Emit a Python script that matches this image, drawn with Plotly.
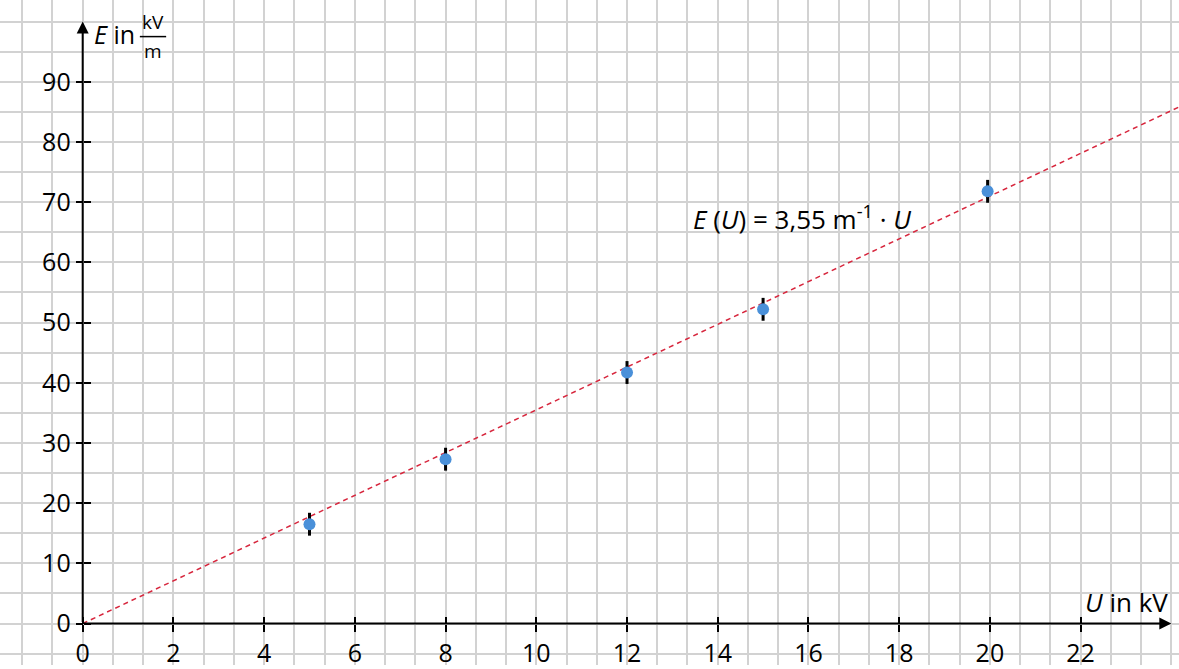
import plotly.graph_objects as go

# Measured field strength E (kV/m) against plate voltage U (kV)
voltage_kv = [5, 8, 12, 15, 19.95]
field_kv_per_m = [16.5, 27.3, 41.7, 52.2, 71.8]
field_error = [1.9, 1.9, 1.9, 1.9, 1.9]

# Proportional fit E(U) = k * U
slope = 3.55

# Tick labels
x_ticks = [0, 2, 4, 6, 8, 10, 12, 14, 16, 18, 20, 22]
y_ticks = [0, 10, 20, 30, 40, 50, 60, 70, 80, 90]

X_RANGE = [-1.823, 24.169]
Y_RANGE = [-6.886, 103.58]
X_END, Y_END = 24.0, 100.0

FONT = "Open Sans"
GRID = "#d2d2d2"

x_zero_frac = (0 - X_RANGE[0]) / (X_RANGE[1] - X_RANGE[0])
y_zero_frac = (0 - Y_RANGE[0]) / (Y_RANGE[1] - Y_RANGE[0])

fig = go.Figure()

# Fit line through the origin
fit_x = [0, X_RANGE[1] + 0.5]
fig.add_trace(go.Scatter(
    x=fit_x, y=[slope * u for u in fit_x], mode="lines",
    line=dict(color="#d7263d", width=1.5, dash="5px,4px"),
    hoverinfo="skip", showlegend=False,
))

# Measurements with uncertainties
fig.add_trace(go.Scatter(
    x=voltage_kv, y=field_kv_per_m, mode="markers",
    marker=dict(color="#4a90d9", size=12),
    error_y=dict(type="data", array=field_error, color="black",
                 thickness=3, width=0),
    showlegend=False,
))

tick_font = dict(family=FONT, size=25, color="black")

fig.update_layout(
    width=1179, height=669,
    margin=dict(l=0, r=0, t=0, b=0),
    plot_bgcolor="white", paper_bgcolor="white",
    showlegend=False,
    # background grid
    xaxis=dict(range=X_RANGE, tick0=0, dtick=2 / 3, showgrid=True,
               gridcolor=GRID, gridwidth=1.5, zeroline=False,
               showticklabels=False, ticks="", showline=False),
    yaxis=dict(range=Y_RANGE, tick0=0, dtick=5, showgrid=True,
               gridcolor=GRID, gridwidth=1.5, zeroline=False,
               showticklabels=False, ticks="", showline=False),
    # labelled axes crossing at the origin
    xaxis2=dict(range=X_RANGE, overlaying="x", anchor="free",
                position=y_zero_frac, side="bottom", tickvals=x_ticks,
                ticks="outside", ticklen=7, tickwidth=1.5, tickcolor="black",
                showgrid=False, zeroline=False, showline=False,
                tickfont=tick_font),
    xaxis3=dict(range=X_RANGE, overlaying="x", anchor="free",
                position=y_zero_frac, side="bottom", tickvals=x_ticks,
                ticks="inside", ticklen=7, tickwidth=1.5, tickcolor="black",
                showgrid=False, zeroline=False, showline=False,
                showticklabels=False),
    yaxis2=dict(range=Y_RANGE, overlaying="y", anchor="free",
                position=x_zero_frac, side="left", tickvals=y_ticks,
                ticks="outside", ticklen=7, tickwidth=1.5, tickcolor="black",
                showgrid=False, zeroline=False, showline=False,
                tickfont=tick_font),
    yaxis3=dict(range=Y_RANGE, overlaying="y", anchor="free",
                position=x_zero_frac, side="left", tickvals=y_ticks,
                ticks="inside", ticklen=7, tickwidth=1.5, tickcolor="black",
                showgrid=False, zeroline=False, showline=False,
                showticklabels=False),
)

# dummy traces so the overlay axes are drawn
fig.add_trace(go.Scatter(x=[None], y=[None], xaxis="x2", yaxis="y2",
                         showlegend=False, hoverinfo="skip"))
fig.add_trace(go.Scatter(x=[None], y=[None], xaxis="x3", yaxis="y3",
                         showlegend=False, hoverinfo="skip"))

# axis lines with arrow heads
for tip, tail in [((X_END, 0), (0, 0)), ((0, Y_END), (0, 0))]:
    fig.add_annotation(x=tip[0], y=tip[1], ax=tail[0], ay=tail[1],
                       xref="x", yref="y", axref="x", ayref="y",
                       showarrow=True, arrowhead=2, arrowsize=1.2,
                       arrowwidth=2, arrowcolor="black", standoff=0, text="")

label_font = dict(family=FONT, size=26, color="black")
frac_font = dict(family=FONT, size=19, color="black")

# axis titles
fig.add_annotation(x=23.97, y=3.5, xref="x", yref="y", xanchor="right",
                   yanchor="middle", showarrow=False,
                   text="<i>U</i> in kV", font=label_font)
fig.add_annotation(x=0.22, y=98.0, xref="x", yref="y", xanchor="left",
                   yanchor="middle", showarrow=False, borderpad=0,
                   text="<i>E</i> in", font=dict(family=FONT, size=25,
                                                 color="black"))
fig.add_annotation(x=1.55, y=97.6, xref="x", yref="y", xanchor="center",
                   yanchor="bottom", showarrow=False, borderpad=0,
                   text="kV", font=frac_font)
fig.add_annotation(x=1.55, y=97.4, xref="x", yref="y", xanchor="center",
                   yanchor="top", showarrow=False, borderpad=0,
                   text="m", font=frac_font)
fig.add_shape(type="line", x0=1.26, x1=1.84, y0=97.5, y1=97.5,
              xref="x", yref="y", line=dict(color="black", width=1.5))

# fit equation
fig.add_annotation(x=13.42, y=67.4, xref="x", yref="y", xanchor="left",
                   yanchor="middle", showarrow=False,
                   text="<i>E</i> (<i>U</i>) = 3,55 m<sup>-1</sup> · <i>U</i>",
                   font=label_font)

fig.write_html("out.html")
